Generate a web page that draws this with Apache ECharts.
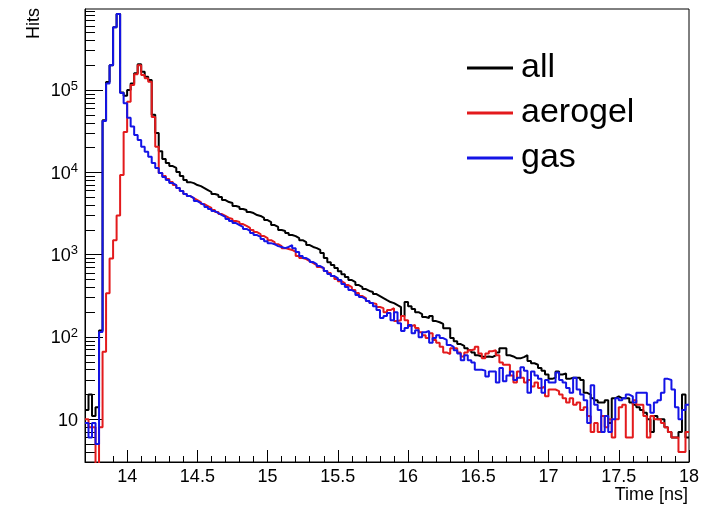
<!DOCTYPE html>
<html><head><meta charset="utf-8">
<script src="https://cdn.jsdelivr.net/npm/echarts@6/dist/echarts.min.js"></script>
<style>html,body{margin:0;padding:0;background:#fff}#c{width:722px;height:506px}</style>
</head><body><div id="c"></div>
<script>
// Histogram binning (bin edges, ns)
const BIN_START = 13.7;
const BIN_WIDTH = 0.025;
const X_MIN = 13.7, X_MAX = 18;
const Y_MIN = 3.03, Y_MAX = 9.64e5;

const seriesNames = ['all', 'aerogel', 'gas'];
const seriesColors = ['#000000', '#e31a1c', '#1414e6'];

// Hits per bin (zero-count bins stored as 1, below the axis)
const allHits = [13,20,11,14,120,43000,125000,200000,580000,840000,
93000,85000,100000,120000,160000,205000,167000,145000,132000,50000,
30000,18000,14500,13000,11900,11300,10100,9000,8060,7600,
7400,7010,6800,6450,6100,5770,5450,5300,5000,4610,
4360,4240,3900,3790,3580,3480,3290,3200,3030,2950,
2790,2630,2490,2290,2170,1990,1940,1830,1730,1680,
1590,1500,1420,1310,1240,1200,1140,1050,910,810,
748,690,630,580,535,491,465,427,404,382,
362,352,332,314,297,281,266,258,244,231,
180,266,237,218,200,190,175,170,180,156,
151,144,128,128,97,89,82,78,73,69,
65,60,58,57,58,57,60,65,73,73,
60,58,55,55,57,60,51,48,46,42,
39,35,31,32,38,35,36,31,32,32,
32,30,21,20,18,17,16,16,17,9,
18,19,18,18,18,16,15,14,13,12,
10,7,11,10,10,8,7,6,6,7,
20,6];

const aerogelHits = [10,8,8,1,8,66,340,900,1500,3000,
9300,31000,72000,115000,155000,200000,152000,139000,126000,47000,
20500,9800,9000,8290,7620,7010,6450,5930,5450,5150,
4870,4610,4360,4120,3900,3690,3480,3290,3110,2950,
2790,2710,2560,2490,2350,2230,2110,1990,1880,1780,
1680,1590,1500,1420,1340,1270,1200,1170,1140,1080,
962,909,884,836,791,748,707,688,632,597,
549,505,477,452,427,404,372,342,314,297,
273,258,251,231,224,200,212,224,156,160,
180,160,136,140,129,114,105,97,111,92,
85,76,65,62,73,73,65,58,65,69,
71,76,63,55,63,67,69,60,49,46,
46,34,28,38,32,28,30,25,28,24,
25,19,23,23,22,20,18,16,18,15,
16,13,14,11,7,9,7,11,8,10,
6,10,14,15,6,6,17,15,15,11,
6,11,10,10,9,8,7,6,6,4,
4,7];

const gasHits = [9,6,9,5,115,42000,120000,200000,580000,840000,
92000,69000,46000,36000,28500,24700,20500,17800,15500,13000,
11300,9800,8770,8060,7410,7010,6450,5930,5450,5150,
4870,4480,4240,4010,3790,3580,3380,3200,3030,2870,
2710,2560,2420,2290,2170,2050,1940,1830,1730,1640,
1550,1460,1380,1340,1270,1240,1200,1240,1310,1200,
1080,962,909,860,813,769,727,688,632,581,
549,520,491,439,404,372,352,323,305,289,
273,258,237,212,170,180,195,160,200,147,
118,129,140,111,121,99,114,118,85,97,
105,97,92,80,76,69,63,52,60,52,
49,40,40,39,33,38,38,28,42,29,
34,38,30,32,43,39,21,38,34,31,
21,30,28,28,37,30,28,24,21,32,
23,20,17,9,26,15,13,7,11,7,
10,18,17,18,20,19,16,21,21,21,
15,12,16,17,21,31,30,23,14,10,
13,15];

// Axis tick values
const xMajorTicks = [14, 14.5, 15, 15.5, 16, 16.5, 17, 17.5, 18];
const yMajorTicks = [10, 100, 1000, 10000, 100000];

const xMinorTicks = [];
for (let k = 138; k < 180; k++) { if (k % 5 !== 0) xMinorTicks.push(k / 10); }
const yMinorTicks = [];
for (let e = 0; e <= 5; e++) for (let m = 2; m <= 9; m++) {
  const v = m * Math.pow(10, e);
  if (v > Y_MIN && v < Y_MAX) yMinorTicks.push(v);
}

function toSteps(vals) {
  const pts = vals.map((v, i) => [+(BIN_START + i * BIN_WIDTH).toFixed(4), v]);
  pts.push([+(BIN_START + vals.length * BIN_WIDTH).toFixed(4), vals[vals.length - 1]]);
  return pts;
}

const FONT = 'Liberation Sans';
const chart = echarts.init(document.getElementById('c'), null, {renderer: 'canvas'});
const seriesData = [allHits, aerogelHits, gasHits];

chart.setOption({
  animation: false,
  backgroundColor: '#ffffff',
  textStyle: {fontFamily: FONT},
  grid: {left: 85, top: 9, right: 33, bottom: 44, show: true, borderColor: '#000', borderWidth: 1, backgroundColor: 'transparent'},
  legend: {
    orient: 'vertical', left: 467, top: 51, padding: 0,
    itemWidth: 46, itemHeight: 3, itemGap: 11, icon: 'rect', selectedMode: false,
    textStyle: {fontSize: 34, fontFamily: FONT, color: '#000', lineHeight: 34, padding: [0, 0, 0, 3]},
    data: seriesNames
  },
  xAxis: [{
    type: 'value', min: X_MIN, max: X_MAX, position: 'bottom',
    axisLine: {show: true, onZero: false, lineStyle: {color: '#000', width: 1}},
    axisTick: {show: true, inside: true, length: 12, customValues: xMajorTicks, lineStyle: {color: '#000'}},
    axisLabel: {show: true, customValues: xMajorTicks, fontSize: 18, color: '#000', margin: 6, fontFamily: FONT,
      formatter: v => String(v)},
    splitLine: {show: false}
  }, {
    type: 'value', min: X_MIN, max: X_MAX, position: 'bottom', offset: 0,
    axisLine: {show: false},
    axisTick: {show: true, inside: true, length: 6, customValues: xMinorTicks, lineStyle: {color: '#000'}},
    axisLabel: {show: false},
    splitLine: {show: false}
  }],
  yAxis: [{
    type: 'log', logBase: 10, min: Y_MIN, max: Y_MAX, position: 'left',
    axisLine: {show: true, lineStyle: {color: '#000', width: 1}},
    axisTick: {show: true, inside: true, length: 18, customValues: yMajorTicks, lineStyle: {color: '#000'}},
    axisLabel: {show: true, customValues: yMajorTicks, margin: 7, color: '#000',
      formatter: v => {
        const e = Math.round(Math.log10(v));
        return e === 1 ? '{b|10}' : '{b|10}{s|' + e + '}';
      },
      rich: {
        b: {fontSize: 18, fontFamily: FONT, color: '#000', verticalAlign: 'bottom', lineHeight: 21},
        s: {fontSize: 13, fontFamily: FONT, color: '#000', verticalAlign: 'top', lineHeight: 13}
      }
    },
    splitLine: {show: false}
  }, {
    type: 'log', logBase: 10, min: Y_MIN, max: Y_MAX, position: 'left', offset: 0,
    axisLine: {show: false},
    axisTick: {show: true, inside: true, length: 10, customValues: yMinorTicks, lineStyle: {color: '#000'}},
    axisLabel: {show: false},
    splitLine: {show: false}
  }],
  graphic: [
    {type: 'text', x: 34, y: 8, rotation: Math.PI / 2,
     style: {text: 'Hits', font: '18px "Liberation Sans"', fill: '#000', textAlign: 'right', textVerticalAlign: 'middle'}},
    {type: 'text', x: 688, y: 495,
     style: {text: 'Time [ns]', font: '18px "Liberation Sans"', fill: '#000', textAlign: 'right', textVerticalAlign: 'middle'}}
  ],
  series: seriesNames.map((name, k) => ({
    name: name, type: 'line', xAxisIndex: 0, yAxisIndex: 0,
    step: 'end', symbol: 'none', showSymbol: false, clip: true,
    lineStyle: {width: 2, color: seriesColors[k]},
    itemStyle: {color: seriesColors[k]},
    data: toSteps(seriesData[k])
  }))
});
</script>
</body></html>
